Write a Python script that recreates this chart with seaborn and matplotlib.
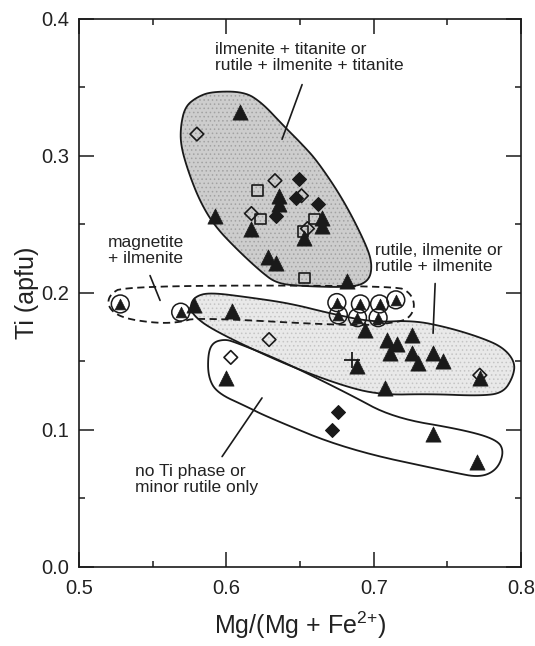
import numpy as np
import pandas as pd
import matplotlib
matplotlib.use("Agg")
import matplotlib.pyplot as plt
from matplotlib.patches import Polygon
from matplotlib.ticker import MultipleLocator
import seaborn as sns

# ---- biotite compositions: Mg/(Mg+Fe2+) vs Ti (apfu) ----
tri_x = [0.609, 0.592, 0.636, 0.636, 0.665, 0.665, 0.617, 0.653, 0.628, 0.634,
         0.682, 0.578, 0.604, 0.694, 0.726, 0.709, 0.716, 0.711, 0.726, 0.730,
         0.740, 0.747, 0.689, 0.708, 0.772, 0.600, 0.740, 0.770]
tri_y = [0.332, 0.256, 0.271, 0.265, 0.255, 0.249, 0.247, 0.240, 0.226, 0.222,
         0.209, 0.191, 0.187, 0.173, 0.169, 0.166, 0.163, 0.156, 0.156, 0.149,
         0.156, 0.150, 0.147, 0.131, 0.138, 0.138, 0.097, 0.077]

circ_x = [0.528, 0.569, 0.675, 0.676, 0.691, 0.689, 0.704, 0.715, 0.703]
circ_y = [0.192, 0.186, 0.193, 0.184, 0.192, 0.182, 0.192, 0.195, 0.182]

dia_open_x = [0.580, 0.633, 0.651, 0.617, 0.655, 0.629, 0.603, 0.772]
dia_open_y = [0.316, 0.282, 0.271, 0.258, 0.247, 0.166, 0.153, 0.140]

dia_fill_x = [0.649, 0.647, 0.662, 0.634, 0.676, 0.672]
dia_fill_y = [0.283, 0.269, 0.265, 0.256, 0.113, 0.100]

sq_x = [0.621, 0.623, 0.652, 0.660, 0.653]
sq_y = [0.275, 0.254, 0.245, 0.254, 0.211]

cross_x = [0.685]
cross_y = [0.151]

# ---- assemblage fields (outline vertices in data units) ----
field_titanite = [(0.569, 0.322), (0.572, 0.336), (0.580, 0.343), (0.590, 0.347),
                  (0.612, 0.347), (0.624, 0.339), (0.638, 0.323), (0.651, 0.309),
                  (0.662, 0.296), (0.680, 0.267), (0.695, 0.235), (0.699, 0.221),
                  (0.697, 0.209), (0.686, 0.204), (0.651, 0.205), (0.634, 0.207),
                  (0.623, 0.216), (0.607, 0.232), (0.592, 0.249), (0.582, 0.267),
                  (0.574, 0.289), (0.569, 0.308)]
field_magnetite = [(0.531, 0.2054), (0.7145, 0.2054), (0.7247, 0.2004), (0.7281, 0.1909),
                   (0.7247, 0.1822), (0.7166, 0.1786), (0.6887, 0.1757), (0.5801, 0.1822),
                   (0.5686, 0.1786), (0.553, 0.1779), (0.5299, 0.1815), (0.520, 0.1887),
                   (0.520, 0.1982)]
field_rutile = [(0.5754, 0.1909), (0.5788, 0.1975), (0.5889, 0.2004), (0.6161, 0.1967),
                (0.6432, 0.1924), (0.6704, 0.1851), (0.6996, 0.1786), (0.7267, 0.180),
                (0.7498, 0.175), (0.7722, 0.1677), (0.7878, 0.1604), (0.796, 0.1495),
                (0.7946, 0.1387), (0.7878, 0.127), (0.7722, 0.1249), (0.7383, 0.1263),
                (0.7043, 0.1256), (0.6772, 0.1328), (0.6365, 0.1495), (0.591, 0.1728),
                (0.5774, 0.1837)]
field_noti = [(0.5876, 0.1561), (0.591, 0.1641), (0.5991, 0.1662), (0.6059, 0.1641),
              (0.6365, 0.151), (0.6819, 0.127), (0.7132, 0.1089), (0.7607, 0.1002),
              (0.7838, 0.0929), (0.7885, 0.0842), (0.7838, 0.0711), (0.7722, 0.0653),
              (0.7539, 0.069), (0.6819, 0.0857), (0.6276, 0.1096), (0.6141, 0.1169),
              (0.5937, 0.127), (0.5876, 0.1387)]

field_labels = ["ilmenite + titanite or\nrutile + ilmenite + titanite",
                "magnetite\n+ ilmenite",
                "rutile, ilmenite or\nrutile + ilmenite",
                "no Ti phase or\nminor rutile only"]
label_xy = [(0.5923, 0.372), (0.5197, 0.2309), (0.701, 0.225), (0.538, 0.0639)]
leaders = [((0.6514, 0.3521), (0.6378, 0.3122)),
           ((0.5482, 0.2127), (0.555, 0.1946)),
           ((0.7417, 0.2069), (0.7403, 0.1706)),
           ((0.6242, 0.1234), (0.5971, 0.0806))]

x_ticks = [0.5, 0.6, 0.7, 0.8]
y_ticks = [0.0, 0.1, 0.2, 0.3, 0.4]


def smooth_closed(pts, n_iter=3):
    """Chaikin corner cutting for a closed outline."""
    p = np.asarray(pts, float)
    for _ in range(n_iter):
        q = np.roll(p, -1, axis=0)
        a = 0.75 * p + 0.25 * q
        b = 0.25 * p + 0.75 * q
        out = np.empty((2 * len(p), 2))
        out[0::2] = a
        out[1::2] = b
        p = out
    return p


def stippled_field(ax, pts, face, dots, z):
    """Grey field with a fine dot screen and a solid outline."""
    verts = smooth_closed(pts)
    ax.add_patch(Polygon(verts, closed=True, facecolor=face, edgecolor="none",
                         linewidth=0, zorder=z))
    ax.add_patch(Polygon(verts, closed=True, facecolor="none", edgecolor=dots,
                         linewidth=0, hatch="....", zorder=z))
    ax.add_patch(Polygon(verts, closed=True, facecolor="none", edgecolor="#1a1a1a",
                         linewidth=1.3, zorder=z + 0.1))


sns.set_style("ticks")
plt.rcParams["font.family"] = ["Liberation Sans", "DejaVu Sans"]
plt.rcParams["mathtext.default"] = "regular"
plt.rcParams["hatch.linewidth"] = 0.6

fig = plt.figure(figsize=(5.35, 6.46), dpi=100)
ax = fig.add_axes([0.1477, 0.1223, 0.8262, 0.8483])

# fields
stippled_field(ax, field_rutile, "#e9e9e9", "#c4c4c4", 1)
stippled_field(ax, field_titanite, "#cdcdcd", "#a2a2a2", 1)
ax.add_patch(Polygon(smooth_closed(field_noti), closed=True, facecolor="none",
                     edgecolor="#1a1a1a", linewidth=1.3, zorder=1.1))
ax.add_patch(Polygon(smooth_closed(field_magnetite), closed=True, facecolor="none",
                     edgecolor="#1a1a1a", linewidth=1.3, linestyle=(0, (4, 2.5)), zorder=2))

# leaders and labels
for (p0, p1) in leaders:
    ax.plot([p0[0], p1[0]], [p0[1], p1[1]], color="#1a1a1a", lw=1.2, zorder=3)
for txt, (tx, ty) in zip(field_labels, label_xy):
    ax.text(tx, ty, txt, ha="left", va="center", fontsize=12.5, color="#222222",
            linespacing=1.1, zorder=4)

# compositions
df_tri = pd.DataFrame({"x": tri_x, "y": tri_y})
df_circ = pd.DataFrame({"x": circ_x, "y": circ_y})
df_do = pd.DataFrame({"x": dia_open_x, "y": dia_open_y})
df_df = pd.DataFrame({"x": dia_fill_x, "y": dia_fill_y})
df_sq = pd.DataFrame({"x": sq_x, "y": sq_y})
df_cr = pd.DataFrame({"x": cross_x, "y": cross_y})

sns.scatterplot(data=df_sq, x="x", y="y", marker="s", s=60, facecolor="none",
                edgecolor="#1a1a1a", linewidth=1.2, ax=ax, zorder=5)
sns.scatterplot(data=df_do, x="x", y="y", marker="D", s=48, facecolor="none",
                edgecolor="#1a1a1a", linewidth=1.2, ax=ax, zorder=5)
sns.scatterplot(data=df_df, x="x", y="y", marker="D", s=50, color="#1a1a1a",
                edgecolor="#1a1a1a", linewidth=0.8, ax=ax, zorder=6)
sns.scatterplot(data=df_tri, x="x", y="y", marker="^", s=120, color="#1a1a1a",
                edgecolor="#1a1a1a", linewidth=0.5, ax=ax, zorder=6)
sns.scatterplot(data=df_circ, x="x", y="y", marker="o", s=165, facecolor="none",
                edgecolor="#1a1a1a", linewidth=1.1, ax=ax, zorder=6)
sns.scatterplot(data=df_circ, x="x", y="y", marker="^", s=60, color="#1a1a1a",
                edgecolor="#1a1a1a", linewidth=0.5, ax=ax, zorder=7)
sns.scatterplot(data=df_cr, x="x", y="y", marker="+", s=130, color="#1a1a1a",
                linewidth=1.3, ax=ax, zorder=7)

ax.set_xlim(0.5, 0.8)
ax.set_ylim(0.0, 0.4)
ax.set_xticks(x_ticks)
ax.set_yticks(y_ticks)
ax.set_xticklabels([f"{v:.1f}" for v in x_ticks])
ax.set_yticklabels([f"{v:.1f}" for v in y_ticks])
ax.xaxis.set_minor_locator(MultipleLocator(0.05))
ax.yaxis.set_minor_locator(MultipleLocator(0.05))
ax.tick_params(which="both", direction="in", top=True, right=True,
               color="#1a1a1a", width=1.1)
ax.tick_params(which="major", length=11, labelsize=14.5, labelcolor="#222222")
ax.tick_params(which="minor", length=4.5)
ax.tick_params(axis="x", which="major", pad=9)
ax.tick_params(axis="y", which="major", pad=7)
for sp in ax.spines.values():
    sp.set_linewidth(1.2)
    sp.set_color("#1a1a1a")

ax.set_xlabel("Mg/(Mg + Fe$^{2{+}}$)", fontsize=18, color="#222222", labelpad=8)
ax.set_ylabel("Ti (apfu)", fontsize=18, color="#222222", labelpad=2)

fig.savefig("out.png", dpi=100)
